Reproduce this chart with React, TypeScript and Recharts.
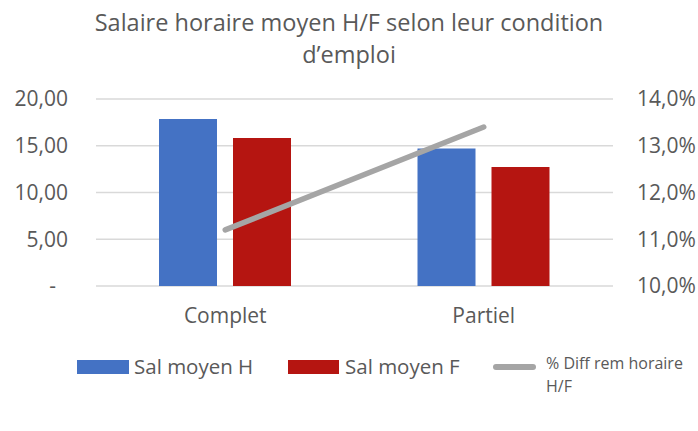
import {
  Bar,
  CartesianGrid,
  ComposedChart,
  Line,
  XAxis,
  YAxis,
} from 'recharts'

const categories = ['Complet', 'Partiel']
const salMoyenH = [17.86, 14.71]
const salMoyenF = [15.83, 12.72]
const pctDiff = [11.2, 13.4]
const leftTicks = [0, 5, 10, 15, 20]
const rightTicks = [10, 11, 12, 13, 14]
const seriesNames = ['Sal moyen H', 'Sal moyen F', '% Diff rem horaire H/F']
const titleLines = ['Salaire horaire moyen H/F selon leur condition', 'd’emploi']

const BLUE = '#4472C4'
const RED = '#B51511'
const GREY = '#A5A5A5'
const TEXT = '#595959'
const FONT = '"Open Sans", sans-serif'

const data = categories.map((cat, i) => ({
  cat,
  h: salMoyenH[i],
  f: salMoyenF[i],
  pct: pctDiff[i],
}))

function LeftTick({ x, y, payload }: any) {
  const v = payload.value as number
  const label = v === 0 ? '-' : v.toFixed(2).replace('.', ',')
  return (
    <text
      x={v === 0 ? x - 12 : x}
      y={y}
      dy="0.355em"
      textAnchor="end"
      fill={TEXT}
      fontSize={21}
      fontFamily={FONT}
    >
      {label}
    </text>
  )
}

const fmtPct = (v: number) => `${v.toFixed(1).replace('.', ',')}%`

/** Title and legend drawn on top of the chart, Excel-style. */
function Overlay() {
  const [nameH, nameF, namePct] = seriesNames
  const pctWords = namePct.split(' ')
  const pctLine1 = pctWords.slice(0, -1).join(' ')
  const pctLine2 = pctWords[pctWords.length - 1]
  return (
    <svg
      width={698}
      height={431}
      style={{ position: 'absolute', left: 0, top: 0, pointerEvents: 'none' }}
      fontFamily={FONT}
      fill={TEXT}
    >
      {titleLines.map((t, i) => (
        <text key={t} x={349} y={31 + i * 32} textAnchor="middle" fontSize={23.5}>
          {t}
        </text>
      ))}
      <rect x={77} y={360} width={52} height={14} fill={BLUE} />
      <text x={134} y={374} fontSize={20.5}>{nameH}</text>
      <rect x={288} y={360} width={51} height={14} fill={RED} />
      <text x={345} y={374} fontSize={20.5}>{nameF}</text>
      <line x1={496} y1={367} x2={533} y2={367} stroke={GREY} strokeWidth={6} strokeLinecap="round" />
      <text x={546} y={369} fontSize={16}>{pctLine1}</text>
      <text x={546} y={392} fontSize={16}>{pctLine2}</text>
    </svg>
  )
}

export default function App() {
  return (
    <div style={{ position: 'absolute', left: 0, top: 0, width: 698, height: 431, background: '#fff' }}>
      <ComposedChart
        width={698}
        height={431}
        data={data}
        margin={{ top: 99, right: 0, bottom: 105, left: 0 }}
        barSize={58}
        barGap={16}
      >
        <CartesianGrid yAxisId="left" vertical={false} stroke="#D9D9D9" strokeWidth={1.3} />
        <XAxis
          dataKey="cat"
          height={40}
          axisLine={false}
          tickLine={false}
          tickSize={0}
          tickMargin={22}
          tick={{ fill: TEXT, fontSize: 21, fontFamily: FONT }}
        />
        <YAxis
          yAxisId="left"
          width={96}
          domain={[0, 20]}
          ticks={leftTicks}
          axisLine={false}
          tickLine={false}
          tickSize={0}
          tickMargin={28}
          tick={<LeftTick />}
        />
        <YAxis
          yAxisId="right"
          orientation="right"
          width={85}
          domain={[10, 14]}
          ticks={rightTicks}
          axisLine={false}
          tickLine={false}
          tickSize={0}
          tickMargin={24}
          tickFormatter={fmtPct}
          tick={{ fill: TEXT, fontSize: 21, fontFamily: FONT, textAnchor: 'start' }}
        />
        <Bar yAxisId="left" dataKey="h" name={seriesNames[0]} fill={BLUE} isAnimationActive={false} />
        <Bar yAxisId="left" dataKey="f" name={seriesNames[1]} fill={RED} isAnimationActive={false} />
        <Line
          yAxisId="right"
          type="linear"
          dataKey="pct"
          name={seriesNames[2]}
          stroke={GREY}
          strokeWidth={5.5}
          strokeLinecap="round"
          dot={false}
          activeDot={false}
          isAnimationActive={false}
        />
      </ComposedChart>
      <Overlay />
    </div>
  )
}
